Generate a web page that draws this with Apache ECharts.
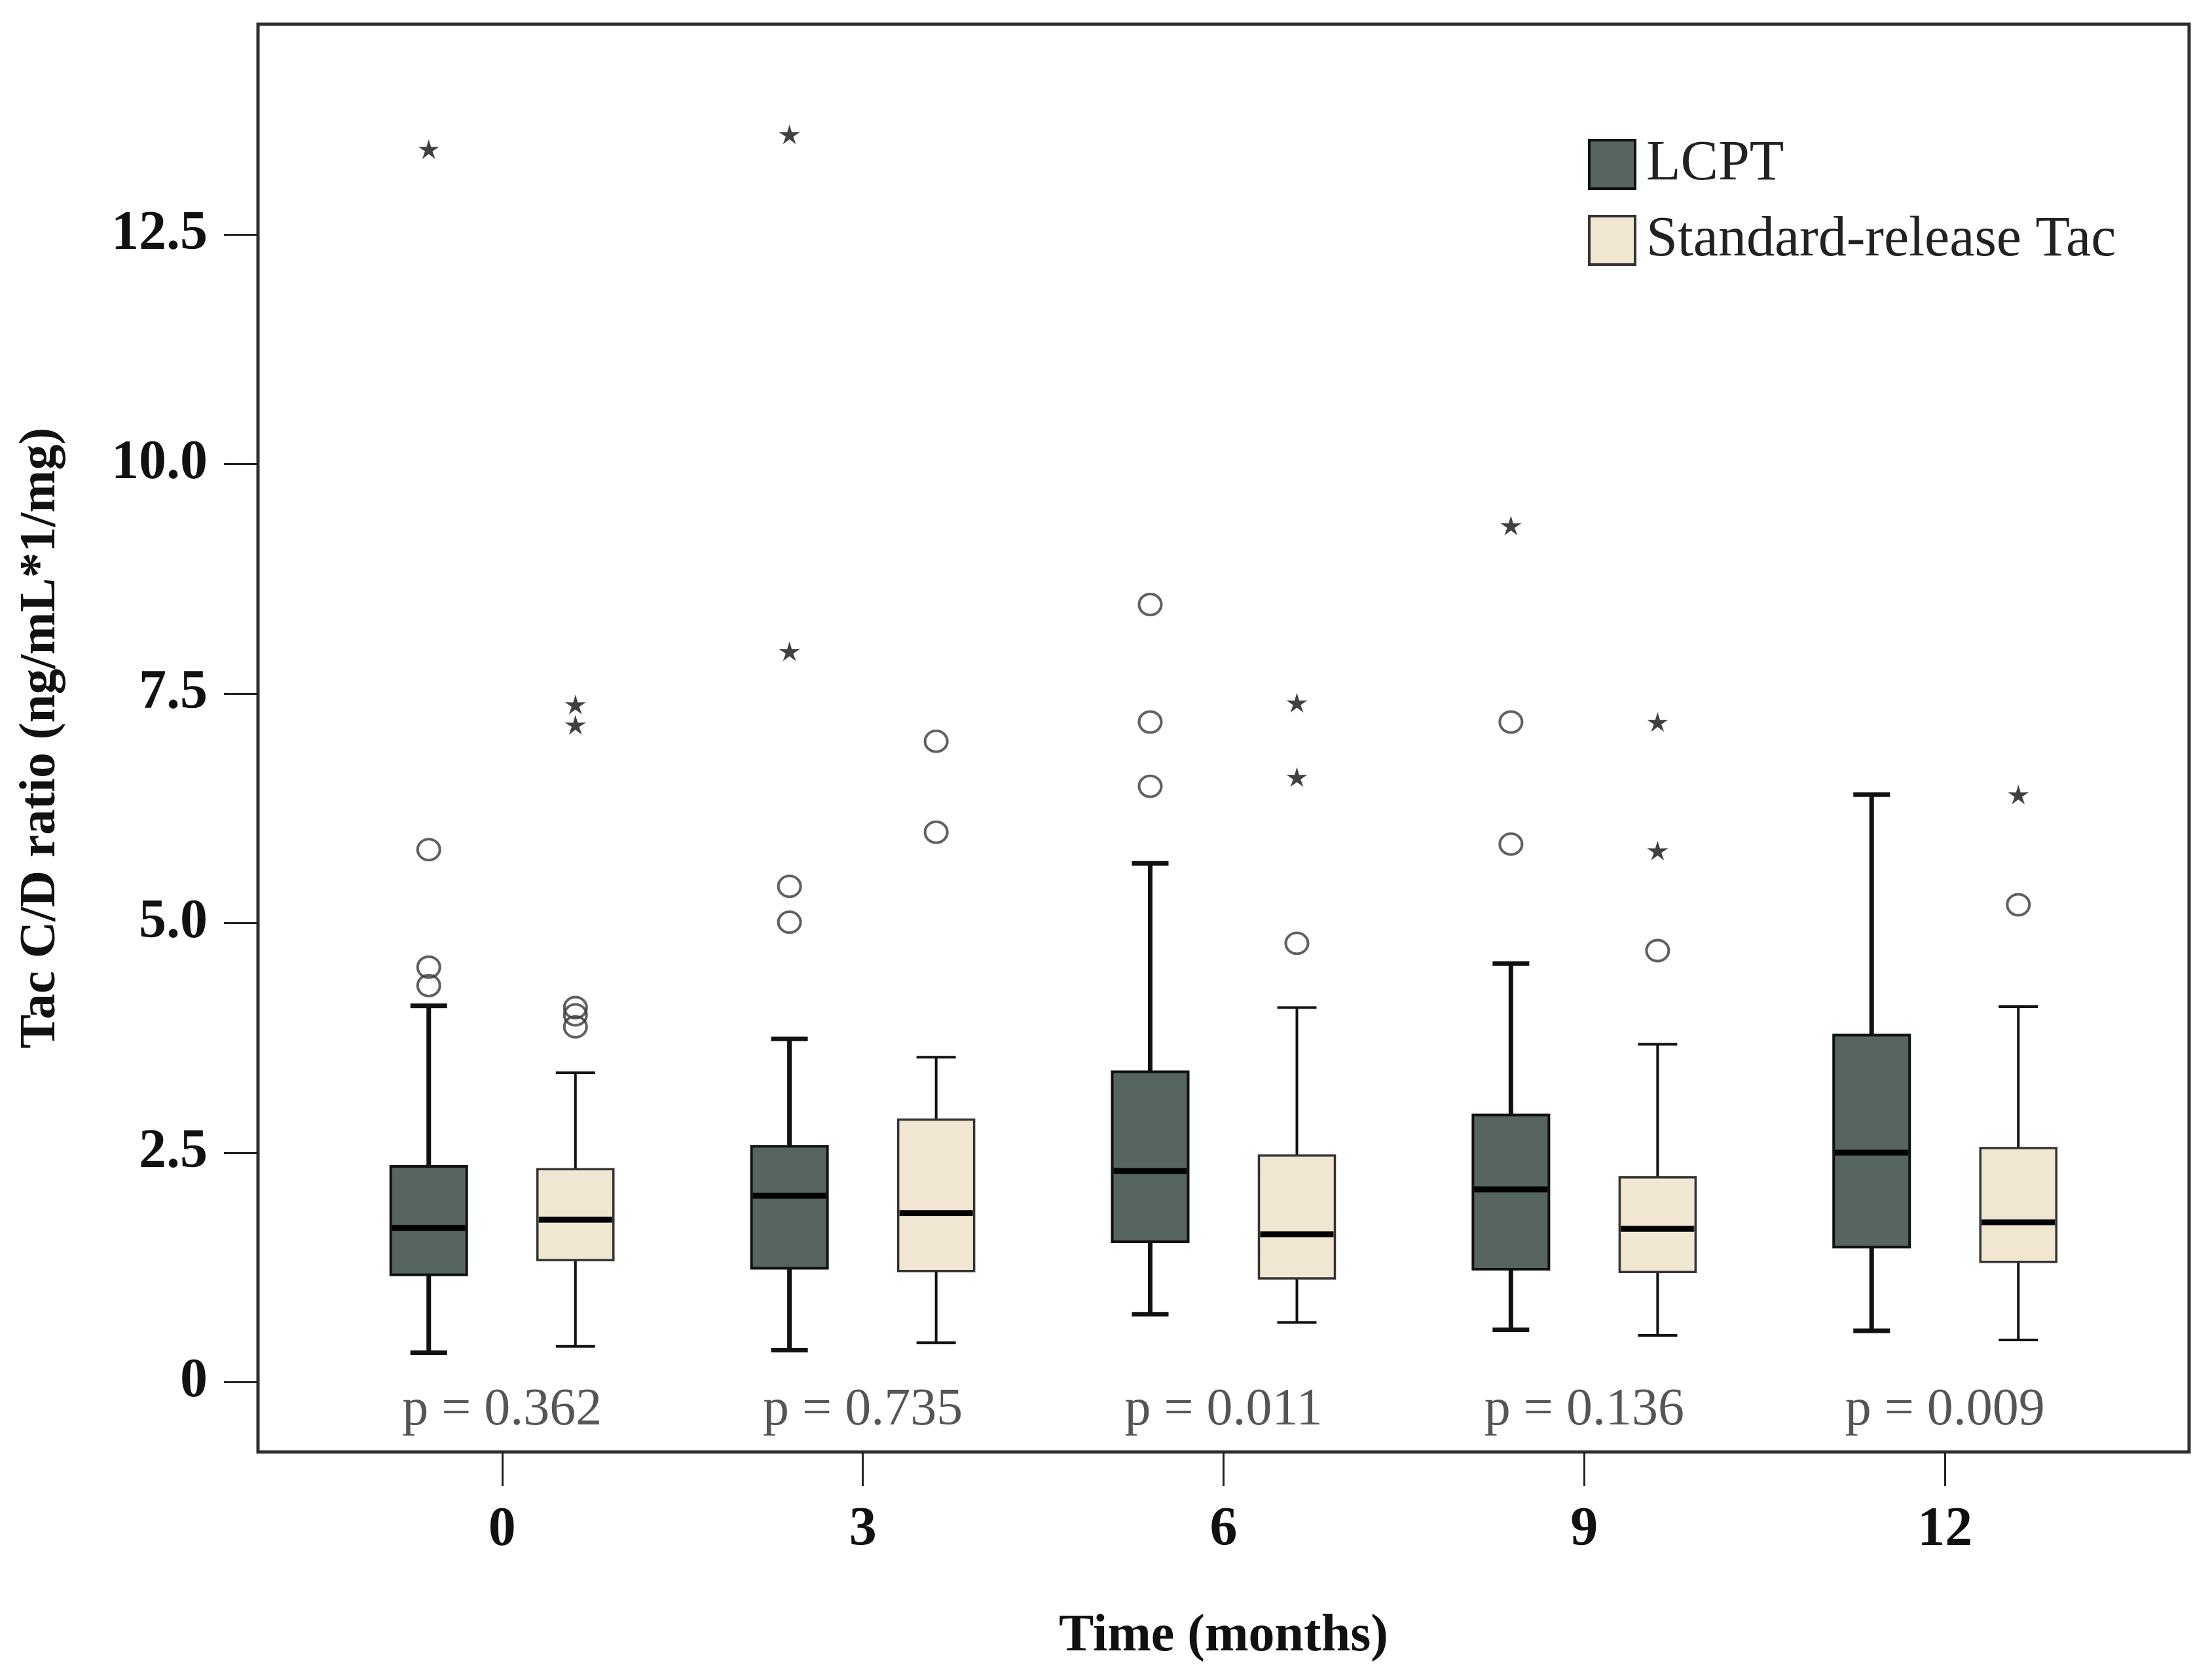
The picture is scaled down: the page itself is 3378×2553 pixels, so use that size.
<!DOCTYPE html>
<html>
<head>
<meta charset="utf-8">
<title>Tac C/D ratio</title>
<script src="https://cdn.jsdelivr.net/npm/echarts@6/dist/echarts.min.js"></script>
<style>
    html, body { margin: 0; padding: 0; background: #fff; }
    #chart { width: 3378px; height: 2553px; }
</style>
</head>
<body>
<div id="chart"></div>
<script>
// Time points (months)
var months = [0, 3, 6, 9, 12];

// Box stats per month: [min, Q1, median, Q3, max]
var lcptBoxes = [
    [0.32, 1.17, 1.68, 2.35, 4.10],
    [0.35, 1.24, 2.03, 2.57, 3.74],
    [0.74, 1.53, 2.30, 3.38, 5.65],
    [0.57, 1.23, 2.10, 2.91, 4.56],
    [0.56, 1.47, 2.50, 3.78, 6.40]
];
var standardBoxes = [
    [0.39, 1.33, 1.77, 2.32, 3.37],
    [0.43, 1.21, 1.84, 2.86, 3.54],
    [0.65, 1.13, 1.61, 2.47, 4.08],
    [0.51, 1.20, 1.67, 2.23, 3.68],
    [0.46, 1.31, 1.74, 2.55, 4.09]
];

// Outliers: [month, value]
var lcptCircles = [[0, 5.80], [0, 4.52], [0, 4.32], [3, 5.40], [3, 5.01], [6, 8.47], [6, 7.19], [6, 6.49], [9, 7.19], [9, 5.86]];
var lcptStars = [[0, 13.43], [3, 13.59], [3, 7.96], [9, 9.33]];
var standardCircles = [[0, 4.08], [0, 4.00], [0, 3.87], [3, 6.98], [3, 5.99], [6, 4.78], [9, 4.70], [12, 5.20]];
var standardStars = [[0, 7.38], [0, 7.16], [6, 7.40], [6, 6.59], [9, 7.19], [9, 5.79], [12, 6.40]];

// p values under each month
var pValues = ['0.362', '0.735', '0.011', '0.136', '0.009'];

// Axis ticks
var yTicks = [0, 2.5, 5, 7.5, 10, 12.5];

var FONT = 'Liberation Serif';
var GROUP_OFFSET = 0.61;   // months from the tick to each box centre
var P_LABEL_Y = -0.31;

var STAR = 'path://M50,0 L60.58,35.44 L97.55,34.55 L67.12,55.56 L79.39,90.45 L50,68 L20.61,90.45 L32.88,55.56 L2.45,34.55 L39.42,35.44 Z';

var styles = {
    lcpt: { fill: '#56655d', border: '#111', borderWidth: 4, whisker: 7, cap: 56 },
    standard: { fill: '#f0e6d2', border: '#333', borderWidth: 3.5, whisker: 4, cap: 60 }
};

var boxRows = function(boxes) {
    return months.map(function(m, i) {
        return [m].concat(boxes[i]);
    });
};

var boxRenderer = function(offset, st) {
    return function(params, api) {
        var m = api.value(0) + offset;
        var pMin = api.coord([m, api.value(1)]);
        var pQ1 = api.coord([m, api.value(2)]);
        var pMed = api.coord([m, api.value(3)]);
        var pQ3 = api.coord([m, api.value(4)]);
        var pMax = api.coord([m, api.value(5)]);
        var cx = pMin[0];
        var half = 58;
        var whiskerStyle = { stroke: '#111', lineWidth: st.whisker };
        return {
            type: 'group',
            children: [
                { type: 'line', shape: { x1: cx, y1: pQ3[1], x2: cx, y2: pMax[1] }, style: whiskerStyle },
                { type: 'line', shape: { x1: cx, y1: pQ1[1], x2: cx, y2: pMin[1] }, style: whiskerStyle },
                { type: 'line', shape: { x1: cx - st.cap / 2, y1: pMax[1], x2: cx + st.cap / 2, y2: pMax[1] }, style: whiskerStyle },
                { type: 'line', shape: { x1: cx - st.cap / 2, y1: pMin[1], x2: cx + st.cap / 2, y2: pMin[1] }, style: whiskerStyle },
                {
                    type: 'rect',
                    shape: { x: cx - half, y: pQ3[1], width: half * 2, height: pQ1[1] - pQ3[1] },
                    style: { fill: st.fill, stroke: st.border, lineWidth: st.borderWidth }
                },
                { type: 'line', shape: { x1: cx - half + 2, y1: pMed[1], x2: cx + half - 2, y2: pMed[1] }, style: { stroke: '#000', lineWidth: 9 } }
            ]
        };
    };
};

var circleSeries = function(name, data, offsetPx) {
    return {
        name: name,
        type: 'scatter',
        data: data,
        symbol: 'circle',
        symbolSize: [34, 32],
        symbolOffset: [offsetPx, 0],
        itemStyle: { color: 'rgba(0,0,0,0)', borderColor: '#3a3a3a', borderWidth: 4 },
        z: 5,
        silent: true
    };
};

var starSeries = function(name, data, offsetPx) {
    return {
        name: name,
        type: 'scatter',
        data: data,
        symbol: STAR,
        symbolSize: [32, 30],
        symbolOffset: [offsetPx, 0],
        itemStyle: { color: '#111' },
        z: 5,
        silent: true
    };
};

document.addEventListener('DOMContentLoaded', function() {
    var chart = echarts.init(document.getElementById('chart'));

    var offsetPx = 112;

    var option = {
        animation: false,
        backgroundColor: '#fff',
        textStyle: { fontFamily: FONT },
        grid: {
            left: 394,
            right: 35,
            top: 37,
            bottom: 336,
            show: true,
            borderColor: '#2e2e2e',
            borderWidth: 5,
            backgroundColor: '#fff'
        },
        legend: {
            orient: 'vertical',
            left: 2425,
            top: 208,
            padding: 0,
            itemGap: 30,
            itemWidth: 70,
            itemHeight: 74,
            icon: 'rect',
            selectedMode: false,
            textStyle: {
                fontFamily: FONT,
                fontSize: 86,
                color: '#222',
                lineHeight: 74,
                padding: [0, 0, 0, 12]
            },
            data: [
                { name: 'LCPT', itemStyle: { color: styles.lcpt.fill, borderColor: '#111', borderWidth: 4 } },
                { name: 'Standard-release Tac', itemStyle: { color: styles.standard.fill, borderColor: '#333', borderWidth: 4 } }
            ]
        },
        xAxis: {
            type: 'value',
            min: -2.03,
            max: 14.03,
            name: 'Time (months)',
            nameLocation: 'middle',
            nameGap: 242,
            nameTextStyle: { fontFamily: FONT, fontSize: 80, fontWeight: 'bold', color: '#111' },
            axisLine: { show: false, onZero: false },
            splitLine: { show: false },
            axisTick: {
                show: true,
                inside: false,
                length: 52,
                customValues: months,
                lineStyle: { color: '#222', width: 3 }
            },
            axisLabel: {
                customValues: months,
                margin: 78,
                fontFamily: FONT,
                fontSize: 84,
                fontWeight: 'bold',
                color: '#111',
                formatter: function(v) { return String(v); }
            }
        },
        yAxis: {
            type: 'value',
            min: -0.76,
            max: 14.79,
            name: 'Tac C/D ratio (ng/mL*1/mg)',
            nameLocation: 'middle',
            nameGap: 292,
            nameTextStyle: { fontFamily: FONT, fontSize: 78, fontWeight: 'bold', color: '#111' },
            axisLine: { show: false, onZero: false },
            splitLine: { show: false },
            axisTick: {
                show: true,
                inside: false,
                length: 52,
                customValues: yTicks,
                lineStyle: { color: '#222', width: 3 }
            },
            axisLabel: {
                customValues: yTicks,
                margin: 77,
                fontFamily: FONT,
                fontSize: 84,
                fontWeight: 'bold',
                color: '#111',
                formatter: function(v) { return v === 0 ? '0' : v.toFixed(1); }
            }
        },
        series: [
            {
                name: 'LCPT',
                type: 'custom',
                renderItem: boxRenderer(-GROUP_OFFSET, styles.lcpt),
                encode: { x: 0, y: [1, 2, 3, 4, 5] },
                itemStyle: { color: styles.lcpt.fill },
                data: boxRows(lcptBoxes),
                z: 3,
                silent: true
            },
            {
                name: 'Standard-release Tac',
                type: 'custom',
                renderItem: boxRenderer(GROUP_OFFSET, styles.standard),
                encode: { x: 0, y: [1, 2, 3, 4, 5] },
                itemStyle: { color: styles.standard.fill },
                data: boxRows(standardBoxes),
                z: 3,
                silent: true
            },
            circleSeries('LCPT outliers', lcptCircles, -offsetPx),
            starSeries('LCPT extremes', lcptStars, -offsetPx),
            circleSeries('Standard outliers', standardCircles, offsetPx),
            starSeries('Standard extremes', standardStars, offsetPx),
            {
                name: 'p values',
                type: 'scatter',
                symbolSize: 0,
                silent: true,
                data: months.map(function(m) { return [m, P_LABEL_Y]; }),
                label: {
                    show: true,
                    position: 'inside',
                    fontFamily: FONT,
                    fontSize: 80,
                    color: '#2a2a2a',
                    formatter: function(p) { return 'p = ' + pValues[p.dataIndex]; }
                }
            }
        ]
    };

    chart.setOption(option);
});
</script>
</body>
</html>
